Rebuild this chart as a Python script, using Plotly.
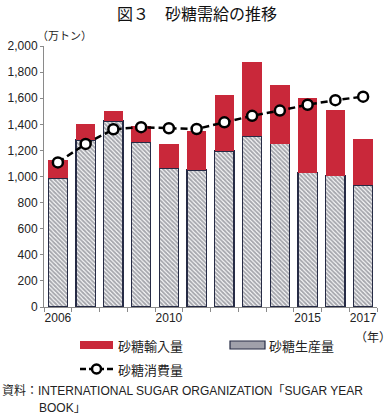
import plotly.graph_objects as go

years = [2006, 2007, 2008, 2009, 2010, 2011, 2012, 2013, 2014, 2015, 2016, 2017]
production = [985, 1280, 1425, 1265, 1065, 1050, 1195, 1310, 1250, 1030, 1005, 935]
imports = [140, 125, 80, 120, 185, 300, 430, 565, 450, 575, 505, 350]
consumption = [1108, 1250, 1362, 1378, 1370, 1364, 1415, 1465, 1505, 1550, 1585, 1612]
tick_years = [2006, 2010, 2015, 2017]
y_ticks = [0, 200, 400, 600, 800, 1000, 1200, 1400, 1600, 1800, 2000]

FONT = "Liberation Sans, Noto Sans CJK JP, sans-serif"
JFONT = "Noto Sans CJK JP, sans-serif"
RED = "#c9283a"

# plot area in pixels
L, R, T, B = 44, 377, 46, 307
W, H = R - L, B - T


def px(x):
    return (x - L) / W


def py(y):
    return (B - y) / H


fig = go.Figure()
fig.add_trace(go.Bar(
    x=years, y=production, name="砂糖生産量",
    marker=dict(color="white", line=dict(color="#262b45", width=1.2),
                pattern=dict(shape="\\", fgcolor="#50525e", bgcolor="white",
                             size=3, solidity=0.65)),
    showlegend=False,
))
fig.add_trace(go.Bar(
    x=years, y=imports, name="砂糖輸入量",
    marker=dict(color=RED, line=dict(width=0)),
    showlegend=False,
))
fig.add_trace(go.Scatter(
    x=years, y=consumption, name="砂糖消費量", mode="lines+markers",
    line=dict(color="black", width=2.5, dash="7px,4px"),
    marker=dict(symbol="circle", size=10, color="white",
                line=dict(color="black", width=2.5)),
    showlegend=False,
))

fig.update_layout(
    width=392, height=415,
    margin=dict(l=L, r=392 - R, t=T, b=415 - B),
    barmode="stack", bargap=0.3,
    plot_bgcolor="white", paper_bgcolor="white",
    font=dict(family=FONT, size=12, color="#222"),
    xaxis=dict(
        range=[2005.5, 2017.5], tickvals=tick_years,
        ticktext=[str(t) for t in tick_years], ticks="",
        showline=True, linecolor="#8a8a8a", linewidth=1,
        showgrid=False, zeroline=False,
        tickfont=dict(size=12),
        minor=dict(tickvals=[y + 0.5 for y in [2005] + years], ticks="outside",
                   ticklen=4, tickcolor="#8a8a8a", showgrid=False),
    ),
    yaxis=dict(
        range=[0, 2000], tickvals=y_ticks,
        ticktext=[f"{v:,}" for v in y_ticks], ticks="outside", ticklen=3,
        tickcolor="#8a8a8a", showline=True, linecolor="#8a8a8a", linewidth=1,
        showgrid=False, zeroline=False, automargin=False,
        tickfont=dict(size=12),
    ),
)

ann = []
ann.append(dict(text="図３　砂糖需給の推移", x=px(197), y=py(13), xanchor="center",
                yanchor="middle", font=dict(family=JFONT, size=16, color="#111")))
ann.append(dict(text="（万トン）", x=px(35), y=py(35), xanchor="left",
                yanchor="middle", font=dict(family=JFONT, size=11)))
ann.append(dict(text="（年）", x=px(373), y=py(336), xanchor="center",
                yanchor="middle", font=dict(family=JFONT, size=12)))
ann.append(dict(text="砂糖輸入量", x=px(116), y=py(345), xanchor="left",
                yanchor="middle", font=dict(family=JFONT, size=13)))
ann.append(dict(text="砂糖生産量", x=px(267), y=py(345), xanchor="left",
                yanchor="middle", font=dict(family=JFONT, size=13)))
ann.append(dict(text="砂糖消費量", x=px(116), y=py(369), xanchor="left",
                yanchor="middle", font=dict(family=JFONT, size=13)))
ann.append(dict(text="資料：INTERNATIONAL SUGAR ORGANIZATION「SUGAR YEAR",
                x=px(0), y=py(391), xanchor="left", yanchor="middle",
                font=dict(family=FONT, size=12)))
ann.append(dict(text="BOOK」", x=px(37), y=py(408), xanchor="left",
                yanchor="middle", font=dict(family=FONT, size=12)))
for a in ann:
    a.update(xref="paper", yref="paper", showarrow=False)
fig.update_layout(annotations=ann)

shapes = [
    dict(type="rect", x0=px(80), x1=px(113), y0=py(349), y1=py(341),
         fillcolor=RED, line=dict(width=0)),
    dict(type="rect", x0=px(230), x1=px(265), y0=py(349), y1=py(341),
         fillcolor="#a0a0aa", line=dict(color="#262b45", width=1.2)),
    dict(type="line", x0=px(80), x1=px(113), y0=py(369), y1=py(369),
         line=dict(color="black", width=2.5, dash="6px,3px")),
    dict(type="circle", x0=px(92), x1=px(101), y0=py(373.5), y1=py(364.5),
         fillcolor="white", line=dict(color="black", width=2.5)),
]
for s in shapes:
    s.update(xref="paper", yref="paper")
fig.update_layout(shapes=shapes)

fig.write_html("out.html",
               config={"displayModeBar": False},
               post_script="document.body.style.margin='0';"
                           "document.body.style.overflow='hidden';")
